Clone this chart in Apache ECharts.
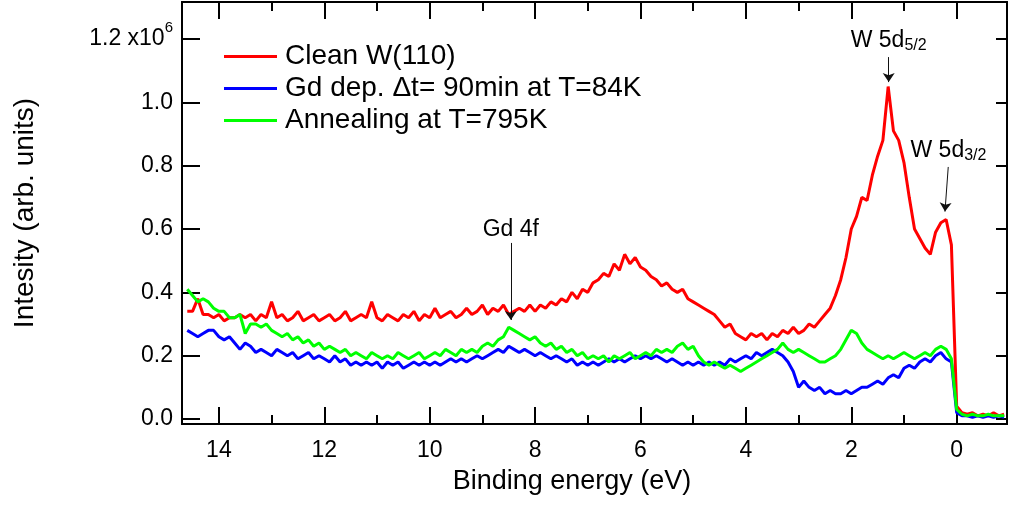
<!DOCTYPE html>
<html>
<head>
<meta charset="utf-8">
<script src="https://cdn.jsdelivr.net/npm/echarts@6/dist/echarts.min.js"></script>
<style>
  html, body { margin: 0; padding: 0; background: #fff; }
  #chart { width: 1009px; height: 520px; }
</style>
</head>
<body>
<div id="chart"></div>
<script>
// Binding energy grid (eV)
const energy = [
  14.6,14.5,14.4,14.3,14.2,14.1,14.0,13.9,13.8,13.7,
  13.6,13.5,13.4,13.3,13.2,13.1,13.0,12.9,12.8,12.7,
  12.6,12.5,12.4,12.3,12.2,12.1,12.0,11.9,11.8,11.7,
  11.6,11.5,11.4,11.3,11.2,11.1,11.0,10.9,10.8,10.7,
  10.6,10.5,10.4,10.3,10.2,10.1,10.0,9.9,9.8,9.7,
  9.6,9.5,9.4,9.3,9.2,9.1,9.0,8.9,8.8,8.7,
  8.6,8.5,8.4,8.3,8.2,8.1,8.0,7.9,7.8,7.7,
  7.6,7.5,7.4,7.3,7.2,7.1,7.0,6.9,6.8,6.7,
  6.6,6.5,6.4,6.3,6.2,6.1,6.0,5.9,5.8,5.7,
  5.6,5.5,5.4,5.3,5.2,5.1,5.0,4.9,4.8,4.7,
  4.6,4.5,4.4,4.3,4.2,4.1,4.0,3.9,3.8,3.7,
  3.6,3.5,3.4,3.3,3.2,3.1,3.0,2.9,2.8,2.7,
  2.6,2.5,2.4,2.3,2.2,2.1,2.0,1.9,1.8,1.7,
  1.6,1.5,1.4,1.3,1.2,1.1,1.0,0.9,0.8,0.7,
  0.6,0.5,0.4,0.3,0.2,0.1,0.0,-0.1,-0.2,-0.3,
  -0.4,-0.5,-0.6,-0.7,-0.8,-0.9
];

// Photoemission intensity, in units of 10^6 counts
const cleanW = [
  0.34,0.34,0.38,0.33,0.33,0.32,0.33,0.31,0.32,0.32,
  0.33,0.32,0.33,0.31,0.33,0.32,0.37,0.32,0.33,0.31,
  0.32,0.34,0.31,0.32,0.33,0.31,0.32,0.33,0.31,0.32,
  0.34,0.31,0.32,0.33,0.32,0.37,0.32,0.31,0.33,0.32,
  0.31,0.33,0.32,0.34,0.31,0.33,0.32,0.35,0.32,0.33,
  0.34,0.32,0.33,0.35,0.33,0.34,0.36,0.33,0.35,0.34,
  0.36,0.33,0.34,0.35,0.34,0.36,0.34,0.36,0.35,0.37,
  0.36,0.38,0.37,0.40,0.38,0.41,0.40,0.43,0.44,0.46,
  0.45,0.49,0.47,0.52,0.49,0.51,0.48,0.47,0.45,0.44,
  0.42,0.43,0.41,0.40,0.41,0.38,0.37,0.36,0.35,0.34,
  0.33,0.31,0.29,0.30,0.27,0.26,0.25,0.27,0.26,0.27,
  0.25,0.27,0.26,0.28,0.27,0.29,0.27,0.28,0.30,0.29,
  0.31,0.33,0.35,0.39,0.44,0.51,0.60,0.64,0.70,0.69,
  0.77,0.83,0.88,1.05,0.91,0.88,0.81,0.70,0.60,0.57,
  0.54,0.52,0.59,0.62,0.63,0.55,0.04,0.02,0.015,0.02,
  0.01,0.015,0.01,0.02,0.01,0.015
];

const gdDeposited = [
  0.28,0.27,0.26,0.27,0.28,0.28,0.26,0.25,0.26,0.24,
  0.22,0.24,0.23,0.21,0.22,0.21,0.20,0.22,0.21,0.20,
  0.21,0.19,0.20,0.21,0.19,0.20,0.19,0.18,0.20,0.18,
  0.19,0.17,0.18,0.17,0.18,0.17,0.18,0.16,0.18,0.17,
  0.18,0.16,0.17,0.18,0.17,0.18,0.17,0.18,0.17,0.18,
  0.19,0.18,0.19,0.18,0.19,0.20,0.19,0.20,0.21,0.22,
  0.21,0.23,0.22,0.21,0.22,0.21,0.20,0.21,0.20,0.19,
  0.20,0.19,0.18,0.19,0.17,0.18,0.17,0.18,0.17,0.18,
  0.19,0.18,0.19,0.18,0.19,0.20,0.19,0.20,0.19,0.20,
  0.19,0.18,0.19,0.18,0.17,0.18,0.17,0.18,0.17,0.18,
  0.17,0.18,0.17,0.19,0.18,0.19,0.20,0.19,0.21,0.20,
  0.21,0.22,0.21,0.20,0.18,0.15,0.10,0.12,0.10,0.09,
  0.10,0.08,0.09,0.08,0.08,0.09,0.08,0.09,0.10,0.10,
  0.11,0.12,0.11,0.13,0.14,0.13,0.16,0.17,0.16,0.18,
  0.19,0.18,0.20,0.21,0.19,0.18,0.02,0.01,0.01,0.005,
  0.01,0.005,0.01,0.005,0.01,0.005
];

const annealed = [
  0.41,0.39,0.37,0.38,0.37,0.35,0.34,0.34,0.32,0.32,
  0.33,0.27,0.30,0.30,0.29,0.30,0.28,0.27,0.26,0.27,
  0.25,0.26,0.24,0.25,0.23,0.24,0.22,0.23,0.22,0.21,
  0.22,0.20,0.21,0.20,0.19,0.21,0.20,0.19,0.20,0.19,
  0.21,0.20,0.19,0.20,0.21,0.19,0.20,0.21,0.20,0.22,
  0.21,0.20,0.22,0.21,0.22,0.21,0.23,0.24,0.23,0.25,
  0.26,0.29,0.28,0.27,0.26,0.25,0.26,0.24,0.23,0.24,
  0.22,0.23,0.21,0.22,0.20,0.21,0.19,0.20,0.19,0.20,
  0.18,0.20,0.19,0.20,0.21,0.19,0.20,0.21,0.20,0.22,
  0.21,0.22,0.21,0.23,0.24,0.22,0.23,0.20,0.18,0.17,
  0.18,0.17,0.16,0.17,0.16,0.15,0.16,0.17,0.18,0.19,
  0.20,0.21,0.22,0.24,0.22,0.21,0.22,0.21,0.20,0.19,
  0.18,0.18,0.19,0.20,0.22,0.25,0.28,0.27,0.24,0.22,
  0.21,0.20,0.19,0.20,0.19,0.20,0.21,0.20,0.19,0.20,
  0.21,0.20,0.22,0.23,0.22,0.19,0.03,0.015,0.01,0.015,
  0.01,0.01,0.015,0.01,0.01,0.01
];

const seriesNames = ['Clean W(110)', 'Gd dep. \u0394t= 90min at T=84K', 'Annealing at T=795K'];
const seriesColors = ['#ff0000', '#0000ff', '#00ff00'];

// Axis ticks
const energyMajorTicks = [0, 2, 4, 6, 8, 10, 12, 14];
const energyMinorTicks = [1, 3, 5, 7, 9, 11, 13];
const intensityTicks = [0, 0.2, 0.4, 0.6, 0.8, 1.0, 1.2];
const energyRange = [-0.955, 14.70];
const intensityRange = [-0.0158, 1.317];

// Peak markers: label, arrow start [eV, intensity], arrow tip [eV, intensity]
const peakLabels = ['Gd 4f', 'W 5d{sub|5/2}', 'W 5d{sub|3/2}'];
const peakArrowFrom = [[8.46, 0.556], [1.29, 1.143], [0.16, 0.796]];
const peakArrowTo = [[8.46, 0.313], [1.29, 1.064], [0.222, 0.655]];

const FONT = '"Liberation Sans", Arial, Helvetica, sans-serif';
const AXIS_LINE = { show: true, onZero: false, lineStyle: { color: '#000', width: 2 } };

function energyAxis(position, tickValues, tickLen, withLabels) {
  return {
    type: 'value',
    position: position,
    min: energyRange[0],
    max: energyRange[1],
    inverse: true,
    axisLine: AXIS_LINE,
    splitLine: { show: false },
    axisTick: {
      show: true, inside: true, length: tickLen,
      customValues: tickValues,
      lineStyle: { color: '#000', width: 2 }
    },
    axisLabel: withLabels ? {
      show: true, customValues: tickValues, margin: 15,
      fontSize: 23, color: '#000', fontFamily: FONT
    } : { show: false }
  };
}

function intensityAxis(position, tickLen, withLabels) {
  return {
    type: 'value',
    position: position,
    min: intensityRange[0],
    max: intensityRange[1],
    axisLine: AXIS_LINE,
    splitLine: { show: false },
    axisTick: {
      show: true, inside: true, length: tickLen,
      customValues: intensityTicks,
      lineStyle: { color: '#000', width: 2 }
    },
    axisLabel: withLabels ? {
      show: true,
      customValues: intensityTicks,
      margin: 9,
      fontSize: 23,
      lineHeight: 38,
      color: '#000',
      fontFamily: FONT,
      formatter: (v) => {
        const top = intensityTicks[intensityTicks.length - 1];
        const txt = v.toFixed(1);
        return Math.abs(v - top) < 1e-9 ? txt + ' x10{sup|6}' : txt;
      },
      rich: { sup: { fontSize: 15, lineHeight: 15, verticalAlign: 'top', fontFamily: FONT, color: '#000' } }
    } : { show: false }
  };
}

const chart = echarts.init(document.getElementById('chart'), null, { renderer: 'canvas' });

const spectra = [cleanW, gdDeposited, annealed];

const series = spectra.map((values, k) => ({
  name: seriesNames[k],
  type: 'line',
  xAxisIndex: 0,
  yAxisIndex: 0,
  showSymbol: false,
  symbol: 'none',
  animation: false,
  z: 2 + k,
  lineStyle: { color: seriesColors[k], width: 3 },
  itemStyle: { color: seriesColors[k] },
  data: energy.map((e, i) => [e, values[i]])
}));

// Peak arrows with their labels, in data coordinates
series[0].markLine = {
  silent: true,
  animation: false,
  symbol: ['none', 'arrow'],
  symbolSize: 9,
  lineStyle: { color: '#111', width: 1, type: 'solid' },
  label: {
    show: true,
    position: 'start',
    distance: 3,
    formatter: '{b}',
    color: '#000',
    fontSize: 23,
    lineHeight: 26,
    fontFamily: FONT,
    rich: { sub: { fontSize: 16, lineHeight: 15, verticalAlign: 'bottom', fontFamily: FONT, color: '#000' } }
  },
  data: peakLabels.map((name, i) => {
    const from = { name: name, coord: peakArrowFrom[i] };
    // labels without a subscript sit a little closer to their arrow
    if (name.indexOf('{sub|') < 0) from.label = { distance: 0 };
    return [from, { coord: peakArrowTo[i] }];
  })
};

chart.setOption({
  animation: false,
  backgroundColor: '#fff',
  grid: { left: 182, right: 2, top: 2, bottom: 96 },
  legend: {
    orient: 'vertical',
    left: 219,
    top: 37,
    icon: 'rect',
    itemWidth: 53,
    itemHeight: 3,
    itemGap: 3,
    data: seriesNames.map((n, k) => ({ name: n, itemStyle: { color: seriesColors[k] } })),
    textStyle: { fontSize: 28, lineHeight: 29, color: '#000', fontFamily: FONT, padding: [0, 0, 0, 3] }
  },
  xAxis: [
    energyAxis('bottom', energyMajorTicks, 17, true),
    energyAxis('bottom', energyMinorTicks, 9, false),
    energyAxis('top', energyMajorTicks, 17, false),
    energyAxis('top', energyMinorTicks, 9, false)
  ],
  yAxis: [
    intensityAxis('left', 18, true),
    intensityAxis('right', 11, false)
  ],
  graphic: [
    {
      type: 'text',
      x: 572, y: 482,
      style: {
        text: 'Binding energy (eV)',
        fontSize: 27, fontFamily: FONT, fill: '#000',
        align: 'center', verticalAlign: 'middle'
      }
    },
    {
      type: 'text',
      x: 25, y: 213,
      rotation: Math.PI / 2,
      style: {
        text: 'Intesity (arb. units)',
        fontSize: 28, fontFamily: FONT, fill: '#000',
        align: 'center', verticalAlign: 'middle'
      }
    }
  ],
  series: series
});
</script>
</body>
</html>
